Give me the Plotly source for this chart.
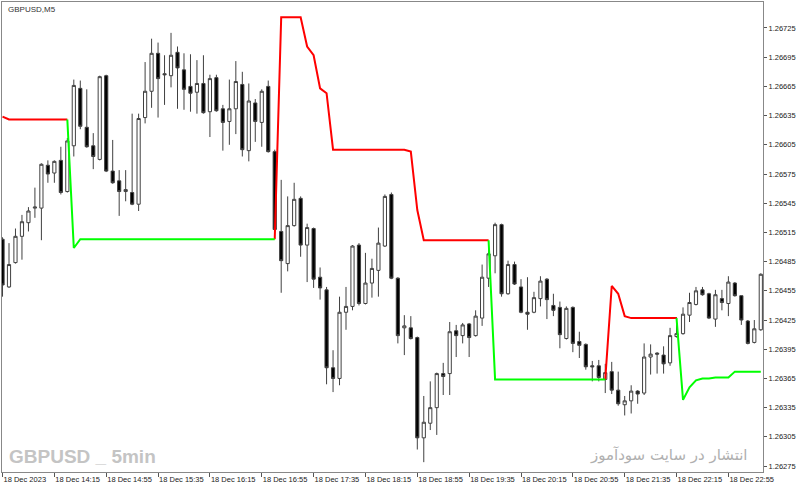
import pandas as pd
import plotly.graph_objects as go

# ---------------- data ----------------
times = pd.date_range("2023-12-18 13:35", periods=118, freq="5min")

open_ = [
    1.26508, 1.26459, 1.26484, 1.26511, 1.26525, 1.26540, 1.26540, 1.26584, 1.26576, 1.26589,
    1.26557, 1.26604, 1.26663, 1.26623, 1.26604, 1.26590, 1.26676, 1.26578, 1.26568, 1.26557,
    1.26556, 1.26544, 1.26633, 1.26660, 1.26699, 1.26678, 1.26676, 1.26700, 1.26682, 1.26665,
    1.26659, 1.26668, 1.26639, 1.26674, 1.26642, 1.26629, 1.26642, 1.26667, 1.26599, 1.26648,
    1.26628, 1.26665, 1.26598, 1.26516, 1.26483, 1.26522, 1.26550, 1.26502, 1.26519, 1.26469,
    1.26456, 1.26376, 1.26365, 1.26433, 1.26439, 1.26502, 1.26442, 1.26463, 1.26476, 1.26501,
    1.26554, 1.26468, 1.26417, 1.26417, 1.26407, 1.26304, 1.26319, 1.26335, 1.26370, 1.26370,
    1.26414, 1.26409, 1.26421, 1.26409, 1.26427, 1.26468, 1.26491, 1.26523, 1.26452, 1.26482,
    1.26459, 1.26433, 1.26433, 1.26447, 1.26467, 1.26440, 1.26438, 1.26406, 1.26438, 1.26403,
    1.26400, 1.26378, 1.26378, 1.26364, 1.26372, 1.26353, 1.26338, 1.26342, 1.26352, 1.26350,
    1.26387, 1.26391, 1.26389, 1.26381, 1.26408, 1.26411, 1.26430, 1.26441, 1.26456, 1.26452,
    1.26426, 1.26447, 1.26442, 1.26463, 1.26450, 1.26424, 1.26402, 1.26415]

high = [
    1.26510, 1.26504, 1.26519, 1.26533, 1.26541, 1.26561, 1.26586, 1.26589, 1.26589, 1.26603,
    1.26612, 1.26672, 1.26671, 1.26662, 1.26617, 1.26676, 1.26677, 1.26610, 1.26579, 1.26579,
    1.26637, 1.26637, 1.26690, 1.26714, 1.26710, 1.26697, 1.26720, 1.26706, 1.26699, 1.26698,
    1.26692, 1.26697, 1.26677, 1.26677, 1.26646, 1.26672, 1.26691, 1.26680, 1.26668, 1.26652,
    1.26662, 1.26671, 1.26600, 1.26569, 1.26552, 1.26566, 1.26552, 1.26524, 1.26520, 1.26479,
    1.26459, 1.26394, 1.26449, 1.26459, 1.26502, 1.26504, 1.26494, 1.26488, 1.26520, 1.26554,
    1.26556, 1.26469, 1.26430, 1.26429, 1.26408, 1.26347, 1.26362, 1.26371, 1.26381, 1.26423,
    1.26420, 1.26422, 1.26422, 1.26435, 1.26482, 1.26497, 1.26525, 1.26524, 1.26486, 1.26485,
    1.26467, 1.26469, 1.26454, 1.26470, 1.26468, 1.26452, 1.26444, 1.26439, 1.26439, 1.26413,
    1.26401, 1.26383, 1.26384, 1.26380, 1.26382, 1.26372, 1.26347, 1.26358, 1.26353, 1.26401,
    1.26400, 1.26392, 1.26398, 1.26417, 1.26428, 1.26438, 1.26453, 1.26459, 1.26459, 1.26453,
    1.26456, 1.26456, 1.26470, 1.26464, 1.26450, 1.26425, 1.26425, 1.26473]

low = [
    1.26449, 1.26458, 1.26483, 1.26487, 1.26516, 1.26530, 1.26507, 1.26566, 1.26566, 1.26554,
    1.26556, 1.26593, 1.26621, 1.26602, 1.26580, 1.26589, 1.26577, 1.26565, 1.26532, 1.26547,
    1.26543, 1.26537, 1.26627, 1.26643, 1.26633, 1.26646, 1.26664, 1.26642, 1.26641, 1.26639,
    1.26637, 1.26637, 1.26613, 1.26639, 1.26599, 1.26605, 1.26616, 1.26593, 1.26588, 1.26608,
    1.26603, 1.26597, 1.26516, 1.26453, 1.26475, 1.26521, 1.26490, 1.26464, 1.26458, 1.26446,
    1.26359, 1.26351, 1.26358, 1.26415, 1.26435, 1.26440, 1.26441, 1.26448, 1.26449, 1.26500,
    1.26467, 1.26401, 1.26389, 1.26405, 1.26292, 1.26279, 1.26312, 1.26307, 1.26348, 1.26348,
    1.26387, 1.26401, 1.26387, 1.26408, 1.26419, 1.26459, 1.26473, 1.26449, 1.26451, 1.26461,
    1.26432, 1.26415, 1.26432, 1.26439, 1.26426, 1.26429, 1.26396, 1.26405, 1.26392, 1.26386,
    1.26374, 1.26362, 1.26362, 1.26350, 1.26349, 1.26337, 1.26327, 1.26329, 1.26339, 1.26348,
    1.26369, 1.26370, 1.26370, 1.26378, 1.26407, 1.26410, 1.26423, 1.26440, 1.26450, 1.26426,
    1.26418, 1.26435, 1.26429, 1.26449, 1.26420, 1.26400, 1.26401, 1.26414]

close = [
    1.26461, 1.26482, 1.26511, 1.26526, 1.26537, 1.26541, 1.26585, 1.26575, 1.26588, 1.26556,
    1.26609, 1.26666, 1.26624, 1.26603, 1.26593, 1.26675, 1.26578, 1.26566, 1.26557, 1.26559,
    1.26544, 1.26632, 1.26660, 1.26699, 1.26673, 1.26677, 1.26697, 1.26684, 1.26662, 1.26658,
    1.26668, 1.26638, 1.26673, 1.26640, 1.26628, 1.26642, 1.26670, 1.26600, 1.26650, 1.26629,
    1.26660, 1.26598, 1.26518, 1.26486, 1.26522, 1.26549, 1.26502, 1.26520, 1.26467, 1.26458,
    1.26376, 1.26365, 1.26433, 1.26439, 1.26501, 1.26442, 1.26463, 1.26478, 1.26504, 1.26552,
    1.26468, 1.26409, 1.26419, 1.26406, 1.26304, 1.26320, 1.26335, 1.26370, 1.26367, 1.26413,
    1.26409, 1.26420, 1.26407, 1.26429, 1.26469, 1.26493, 1.26523, 1.26452, 1.26482, 1.26462,
    1.26433, 1.26431, 1.26448, 1.26465, 1.26446, 1.26435, 1.26410, 1.26437, 1.26401, 1.26399,
    1.26377, 1.26377, 1.26366, 1.26371, 1.26353, 1.26339, 1.26342, 1.26352, 1.26349, 1.26387,
    1.26390, 1.26390, 1.26380, 1.26409, 1.26411, 1.26431, 1.26443, 1.26455, 1.26451, 1.26427,
    1.26451, 1.26443, 1.26464, 1.26450, 1.26425, 1.26401, 1.26416, 1.26472]

N = None
stop_down = [  # red (resistance) buffer
    1.26634, 1.26631, 1.26631, 1.26631, 1.26631, 1.26631, 1.26631, 1.26631, 1.26631, 1.26631,
    1.26631, N, N, N, N, N, N, N, N, N,
    N, N, N, N, N, N, N, N, N, N,
    N, N, N, N, N, N, N, N, N, N,
    N, N, 1.26508, 1.26736, 1.26736, 1.26736, 1.26736, 1.26706, 1.26697, 1.26663,
    1.26658, 1.26600, 1.26600, 1.26600, 1.26600, 1.26600, 1.26600, 1.26600, 1.26600, 1.26600,
    1.26600, 1.26600, 1.26600, 1.26598, 1.26538, 1.26507, 1.26507, 1.26507, 1.26507, 1.26507,
    1.26507, 1.26507, 1.26507, 1.26507, 1.26507, 1.26507, N, N, N, N,
    N, N, N, N, N, N, N, N, N, N,
    N, N, N, 1.26364, 1.26460, 1.26452, 1.26429, 1.26427, 1.26427, 1.26427,
    1.26427, 1.26427, 1.26427, 1.26427, 1.26427, N, N, N, N, N,
    N, N, N, N, N, N, N, N]

stop_up = [  # green (support) buffer
    N, N, N, N, N, N, N, N, N, N,
    1.26631, 1.26499, 1.26508, 1.26508, 1.26508, 1.26508, 1.26508, 1.26508, 1.26508, 1.26508,
    1.26508, 1.26508, 1.26508, 1.26508, 1.26508, 1.26508, 1.26508, 1.26508, 1.26508, 1.26508,
    1.26508, 1.26508, 1.26508, 1.26508, 1.26508, 1.26508, 1.26508, 1.26508, 1.26508, 1.26508,
    1.26508, 1.26508, 1.26508, N, N, N, N, N, N, N,
    N, N, N, N, N, N, N, N, N, N,
    N, N, N, N, N, N, N, N, N, N,
    N, N, N, N, N, 1.26507, 1.26364, 1.26364, 1.26364, 1.26364,
    1.26364, 1.26364, 1.26364, 1.26364, 1.26364, 1.26364, 1.26364, 1.26364, 1.26364, 1.26364,
    1.26364, 1.26364, 1.26364, 1.26364, N, N, N, N, N, N,
    N, N, N, N, 1.26427, 1.26343, 1.26356, 1.26363, 1.26365, 1.26365,
    1.26366, 1.26366, 1.26366, 1.26372, 1.26372, 1.26372, 1.26372, 1.26372]

price_ticks = [1.26275, 1.26305, 1.26335, 1.26365, 1.26395, 1.26425, 1.26455, 1.26485,
               1.26515, 1.26545, 1.26575, 1.26605, 1.26635, 1.26665, 1.26695, 1.26725]
time_tick_idx = [0, 8, 16, 24, 32, 40, 48, 56, 64, 72, 80, 88, 96, 104, 112]
time_tick_text = ["18 Dec 2023", "18 Dec 14:15", "18 Dec 14:55", "18 Dec 15:35",
                  "18 Dec 16:15", "18 Dec 16:55", "18 Dec 17:35", "18 Dec 18:15",
                  "18 Dec 18:55", "18 Dec 19:35", "18 Dec 20:15", "18 Dec 20:55",
                  "18 Dec 21:35", "18 Dec 22:15", "18 Dec 22:55"]

# ---------------- figure ----------------
fig = go.Figure()
fig.add_trace(go.Candlestick(
    x=times, open=open_, high=high, low=low, close=close,
    increasing=dict(line=dict(color="#404040", width=1), fillcolor="#ffffff"),
    decreasing=dict(line=dict(color="#404040", width=1), fillcolor="#000000"),
    whiskerwidth=0, showlegend=False, hoverinfo="skip"))
fig.add_trace(go.Scatter(x=times, y=stop_down, mode="lines", connectgaps=False,
                         line=dict(color="#ff0000", width=2), showlegend=False, hoverinfo="skip"))
fig.add_trace(go.Scatter(x=times, y=stop_up, mode="lines", connectgaps=False,
                         line=dict(color="#00ff00", width=2), showlegend=False, hoverinfo="skip"))

bar = pd.Timedelta(minutes=5)
x_range = [times[0] - 0.08 * bar, times[0] + 117.34 * bar]

axis_font = dict(family="Liberation Sans, Arial, sans-serif", size=7.5, color="#222222")

fig.update_layout(
    width=800, height=490,
    margin=dict(l=2, r=37, t=2, b=18, pad=0),
    paper_bgcolor="#ffffff", plot_bgcolor="#ffffff",
    showlegend=False,
    xaxis=dict(
        type="date", range=x_range,
        tickvals=[times[i] for i in time_tick_idx], ticktext=time_tick_text,
        tickangle=0, automargin=False,
        ticks="outside", ticklen=4, tickwidth=1, tickcolor="#555555",
        ticklabelposition="outside right",
        tickfont=axis_font,
        showgrid=False, zeroline=False, showline=True, linecolor="#888888", linewidth=1,
        mirror=True, rangeslider=dict(visible=False), fixedrange=True),
    yaxis=dict(
        side="right", range=[1.262689, 1.267517], automargin=False,
        tickvals=price_ticks, tickformat=".5f",
        ticks="outside", ticklen=3, tickwidth=1, tickcolor="#555555",
        tickfont=axis_font,
        showgrid=False, zeroline=False, showline=True, linecolor="#888888", linewidth=1,
        mirror=True, fixedrange=True),
    annotations=[
        dict(text="GBPUSD,M5", xref="paper", yref="paper", x=0.005, y=0.997,
             xanchor="left", yanchor="top", showarrow=False,
             font=dict(family="Liberation Sans, Arial, sans-serif", size=8, color="#333333")),
        dict(text="<b>GBPUSD _ 5min</b>", xref="paper", yref="paper", x=0.006, y=0.033,
             xanchor="left", yanchor="middle", showarrow=False,
             font=dict(family="Liberation Sans Narrow, Arial Narrow, sans-serif",
                       size=19, color="#c4c4c4")),
        dict(text="انتشار در سایت سودآموز", xref="paper", yref="paper", x=0.983, y=0.036,
             xanchor="right", yanchor="middle", showarrow=False,
             font=dict(family="DejaVu Sans, sans-serif", size=15, color="#b0b0b0")),
    ],
)

fig.write_html("out.html")
